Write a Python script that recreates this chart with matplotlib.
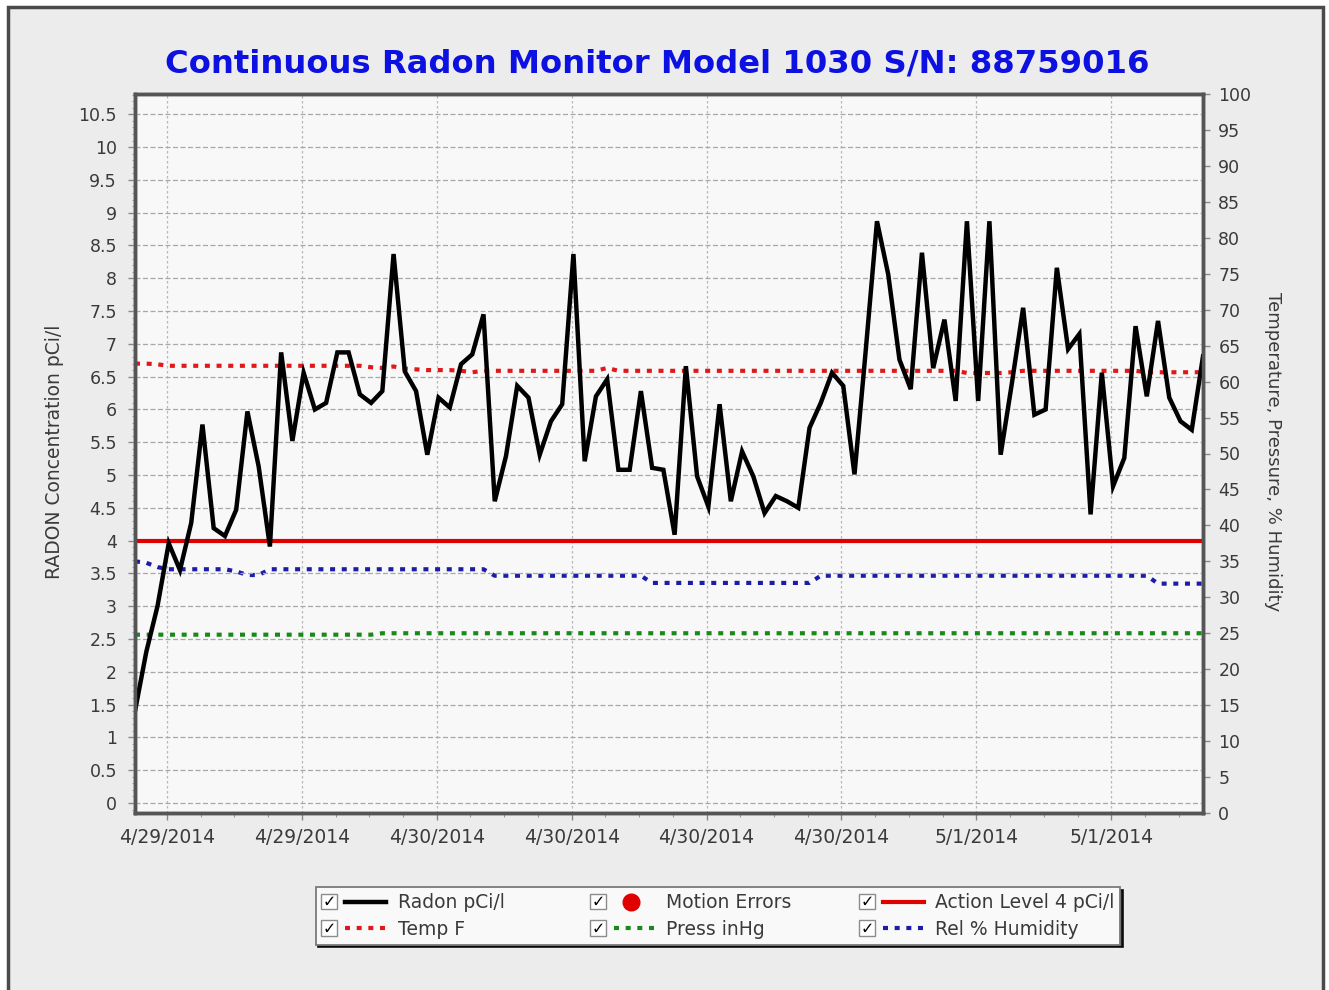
import numpy as np
import matplotlib
matplotlib.use('Agg')
import matplotlib.pyplot as plt
from matplotlib.lines import Line2D
from matplotlib.patches import Rectangle
from matplotlib.text import Text
from matplotlib.legend_handler import HandlerBase
from matplotlib.ticker import MultipleLocator, FixedLocator

# readings every 30 min, starting 4/29/2014 ~10:35
radon = [1.40, 2.30, 3.00, 3.96, 3.55, 4.27, 5.77, 4.19, 4.07, 4.47, 5.97, 5.13,
         3.91, 6.87, 5.52, 6.56, 6.00, 6.10, 6.87, 6.87, 6.23, 6.10, 6.28, 8.37,
         6.58, 6.28, 5.31, 6.18, 6.03, 6.69, 6.84, 7.45, 4.60, 5.29, 6.36, 6.18,
         5.31, 5.82, 6.08, 8.37, 5.21, 6.20, 6.46, 5.08, 5.08, 6.28, 5.11, 5.08,
         4.09, 6.66, 4.98, 4.52, 6.08, 4.60, 5.36, 4.98, 4.42, 4.68, 4.60, 4.50,
         5.72, 6.10, 6.56, 6.36, 5.01, 6.90, 8.87, 8.06, 6.76, 6.31, 8.39, 6.63,
         7.37, 6.13, 8.87, 6.13, 8.87, 5.31, 6.40, 7.55, 5.92, 6.00, 8.16, 6.92,
         7.15, 4.40, 6.56, 4.83, 5.26, 7.27, 6.20, 7.35, 6.18, 5.82, 5.69, 6.81]

temp_f = [62.5, 62.5, 62.4, 62.2, 62.2, 62.2, 62.2, 62.2, 62.2, 62.2, 62.2, 62.2,
          62.2, 62.2, 62.2, 62.2, 62.2, 62.2, 62.2, 62.2, 62.2, 62.0, 61.9, 62.1,
          61.8, 61.7, 61.6, 61.6, 61.6, 61.5, 61.3, 61.5, 61.5, 61.5, 61.5, 61.5,
          61.5, 61.5, 61.5, 61.5, 61.5, 61.5, 61.9, 61.5, 61.5, 61.5, 61.5, 61.5,
          61.5, 61.5, 61.5, 61.5, 61.5, 61.5, 61.5, 61.5, 61.5, 61.5, 61.5, 61.5,
          61.5, 61.5, 61.5, 61.5, 61.5, 61.5, 61.5, 61.5, 61.5, 61.5, 61.5, 61.5,
          61.5, 61.5, 61.2, 61.2, 61.2, 61.2, 61.3, 61.5, 61.5, 61.5, 61.5, 61.5,
          61.5, 61.5, 61.5, 61.5, 61.5, 61.5, 61.3, 61.3, 61.3, 61.3, 61.3, 61.3]

press_inhg = [24.8, 24.8, 24.8, 24.8, 24.8, 24.8, 24.8, 24.8, 24.8, 24.8, 24.8, 24.8,
              24.8, 24.8, 24.8, 24.8, 24.8, 24.8, 24.8, 24.8, 24.8, 24.8, 25.0, 25.0,
              25.0, 25.0, 25.0, 25.0, 25.0, 25.0, 25.0, 25.0, 25.0, 25.0, 25.0, 25.0,
              25.0, 25.0, 25.0, 25.0, 25.0, 25.0, 25.0, 25.0, 25.0, 25.0, 25.0, 25.0,
              25.0, 25.0, 25.0, 25.0, 25.0, 25.0, 25.0, 25.0, 25.0, 25.0, 25.0, 25.0,
              25.0, 25.0, 25.0, 25.0, 25.0, 25.0, 25.0, 25.0, 25.0, 25.0, 25.0, 25.0,
              25.0, 25.0, 25.0, 25.0, 25.0, 25.0, 25.0, 25.0, 25.0, 25.0, 25.0, 25.0,
              25.0, 25.0, 25.0, 25.0, 25.0, 25.0, 25.0, 25.0, 25.0, 25.0, 25.0, 25.0]

humidity = [35.0, 34.8, 34.2, 33.9, 33.9, 33.9, 33.9, 33.9, 33.9, 33.6, 33.1, 33.1,
            33.9, 33.9, 33.9, 33.9, 33.9, 33.9, 33.9, 33.9, 33.9, 33.9, 33.9, 33.9,
            33.9, 33.9, 33.9, 33.9, 33.9, 33.9, 33.9, 33.9, 33.0, 33.0, 33.0, 33.0,
            33.0, 33.0, 33.0, 33.0, 33.0, 33.0, 33.0, 33.0, 33.0, 33.0, 32.0, 32.0,
            32.0, 32.0, 32.0, 32.0, 32.0, 32.0, 32.0, 32.0, 32.0, 32.0, 32.0, 32.0,
            32.0, 33.0, 33.0, 33.0, 33.0, 33.0, 33.0, 33.0, 33.0, 33.0, 33.0, 33.0,
            33.0, 33.0, 33.0, 33.0, 33.0, 33.0, 33.0, 33.0, 33.0, 33.0, 33.0, 33.0,
            33.0, 33.0, 33.0, 33.0, 33.0, 33.0, 33.0, 31.9, 31.9, 31.9, 31.9, 31.9]

action_level = 4.0
step_hours = 0.5
tick_hours = [1.42, 7.42, 13.42, 19.42, 25.42, 31.42, 37.42, 43.42]
tick_labels = ['4/29/2014', '4/29/2014', '4/30/2014', '4/30/2014',
               '4/30/2014', '4/30/2014', '5/1/2014', '5/1/2014']

hours = np.arange(len(radon)) * step_hours

TXT = '#3a3a3a'
SPINE = '#555555'
dots = (0, (1.2, 1.6))


class CheckHandler(HandlerBase):
    # checkbox + line sample, like the instrument software legend
    def create_artists(self, legend, orig, xd, yd, width, height, fontsize, trans):
        s = fontsize * 0.85
        cy = -yd + height / 2
        x0 = -xd
        box = Rectangle((x0, cy - s / 2), s, s, fc='white', ec='#8c8c8c', lw=1, transform=trans)
        chk = Text(x0 + s / 2, cy - 0.5, '\u2713', ha='center', va='center',
                   fontsize=fontsize * 0.85, fontweight='bold', color='black', transform=trans)
        x1 = x0 + s + 0.43 * fontsize
        x2 = x0 + width
        art = Line2D([], [])
        art.update_from(orig)
        if orig.get_linestyle() in ('None', ''):
            art.set_data([(x1 + x2) / 2 - 0.2 * fontsize], [cy])
        else:
            art.set_data([x1, x2], [cy, cy])
        art.set_transform(trans)
        art.set_clip_box(None)
        art.set_clip_on(False)
        return [box, chk, art]


fig = plt.figure(figsize=(13.29, 9.9), dpi=100, facecolor='white')
fig.patches.append(Rectangle((8 / 1329, -0.05), 1315 / 1329, 1 - 7 / 990 + 0.05,
                             transform=fig.transFigure, fc='#ececec', ec='#4a4a4a',
                             lw=2.5, zorder=-10))

ax2 = fig.add_axes([135 / 1329, 177 / 990, 1068 / 1329, 719 / 990])
ax = ax2.twinx()
ax.yaxis.tick_left()
ax.yaxis.set_label_position('left')
ax2.yaxis.tick_right()
ax2.yaxis.set_label_position('right')
ax2.set_facecolor('#f8f8f8')
ax.patch.set_visible(False)

# right axis: temperature / pressure / humidity
t_line, = ax2.plot(hours, temp_f, color='#e01818', lw=3, ls=dots, dash_capstyle='butt')
p_line, = ax2.plot(hours, press_inhg, color='#178a17', lw=3, ls=dots, dash_capstyle='butt')
h_line, = ax2.plot(hours, humidity, color='#1c1ca8', lw=3, ls=dots, dash_capstyle='butt')

# left axis: radon
a_line = ax.axhline(action_level, color='#e00000', lw=3)
r_line, = ax.plot(hours, radon, color='black', lw=3.2, solid_joinstyle='miter')
m_proxy = Line2D([], [], ls='None', marker='o', ms=12, color='#e00000')

ax.set_xlim(0, 47.5)
ax.set_ylim(-0.153, 10.81)
ax2.set_ylim(0, 100)

ax.yaxis.set_minor_locator(MultipleLocator(0.1))
ax.set_yticks(np.arange(0, 10.51, 0.5))
ax.set_yticklabels([('%g' % v) for v in np.arange(0, 10.51, 0.5)])
ax2.yaxis.set_major_locator(MultipleLocator(5))
ax2.yaxis.set_minor_locator(MultipleLocator(1))

ax2.xaxis.set_major_locator(FixedLocator(tick_hours))
ax2.xaxis.set_minor_locator(FixedLocator(np.arange(tick_hours[0] - 1.5, 47.5, 1.5)))
ax2.set_xticklabels(tick_labels)

ax.grid(True, which='major', axis='y', color='#a8a8a8', ls=(0, (4, 2)), lw=0.9)
ax2.grid(True, which='major', axis='x', color='#b8b8b8', ls=(0, (2, 2)), lw=0.9)

ax.tick_params(axis='y', which='major', length=5, width=1, color='#888888',
               labelsize=12.5, labelcolor=TXT, pad=8)
ax.tick_params(axis='y', which='minor', length=2.5, width=0.8, color='#999999')
ax2.tick_params(axis='y', which='major', length=5, width=1, color='#888888',
                labelsize=12.5, labelcolor=TXT, pad=6)
ax2.tick_params(axis='y', which='minor', length=0)
ax2.tick_params(axis='x', which='major', length=5, width=1, color='#888888',
                labelsize=13.5, labelcolor=TXT, pad=6)
ax2.tick_params(axis='x', which='minor', length=3, width=0.8, color='#999999')
ax.tick_params(axis='x', which='both', length=0, labelbottom=False)

for a in (ax, ax2):
    for sp in a.spines.values():
        sp.set_color(SPINE)
        sp.set_linewidth(2.5)

fig.text(657 / 1329, 1 - 64 / 990, 'Continuous Radon Monitor Model 1030 S/N: 88759016',
         ha='center', va='center', fontsize=23.2, fontweight='bold', color='#0c10e0')
fig.text(55 / 1329, 1 - 452 / 990, 'RADON Concentration pCi/l', rotation=90,
         ha='center', va='center', fontsize=13.5, color=TXT)
fig.text(1273 / 1329, 1 - 452 / 990, 'Temperature, Pressure, % Humidity', rotation=-90,
         ha='center', va='center', fontsize=13, color=TXT)

handles = [r_line, t_line, m_proxy, p_line, a_line, h_line]
labels = ['Radon pCi/l   ', 'Temp F', 'Motion Errors', 'Press inHg',
          'Action Level 4 pCi/l', 'Rel % Humidity']
leg = fig.legend(handles, labels, ncol=3, loc='center',
                 bbox_to_anchor=(718 / 1329, 1 - 916 / 990), bbox_transform=fig.transFigure,
                 handler_map={Line2D: CheckHandler()}, fontsize=13.5, handlelength=3.47,
                 handleheight=0.7, handletextpad=0.6, columnspacing=3.6, labelspacing=0.42,
                 borderpad=0.3, fancybox=False, framealpha=1,
                 shadow={'color': 'black', 'alpha': 0.85})
leg.get_frame().set_facecolor('#f9f9f9')
leg.get_frame().set_edgecolor('#7a7a7a')
leg.get_frame().set_linewidth(1.3)
for t in leg.get_texts():
    t.set_color(TXT)

fig.savefig('out.png', dpi=100)
